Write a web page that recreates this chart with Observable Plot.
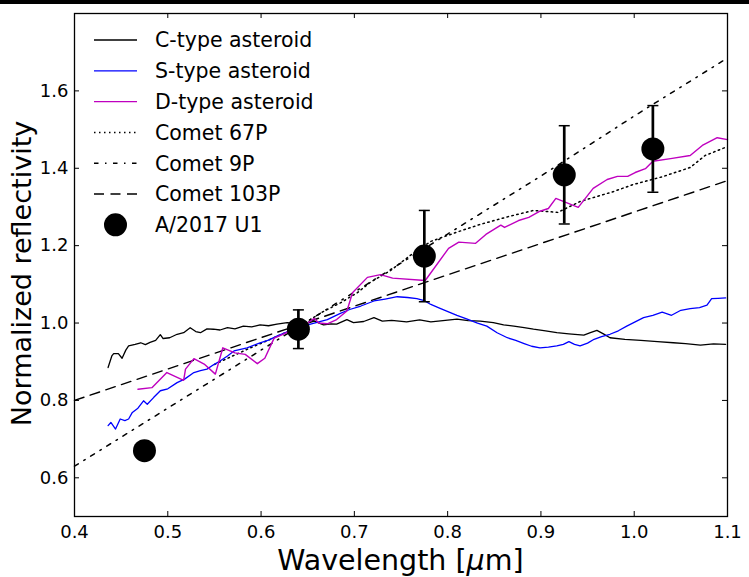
<!DOCTYPE html>
<html><head><meta charset="utf-8">
<script src="https://cdn.jsdelivr.net/npm/d3@7"></script>
<script src="https://cdn.jsdelivr.net/npm/@observablehq/plot@0.6"></script>
<style>
body{margin:0;background:#fff;}
#wrap{position:relative;width:749px;height:577px;overflow:hidden;background:#fff}
#bar{position:absolute;left:0;top:0;width:749px;height:4px;background:#000}
</style></head><body><div id="wrap"></div>
<script>
// ---- data ----
const xTicks = [0.4,0.5,0.6,0.7,0.8,0.9,1.0,1.1];
const yTicks = [0.6,0.8,1.0,1.2,1.4,1.6];

const cWave = [0.436,0.440,0.442,0.447,0.451,0.455,0.458,0.465,0.471,0.476,0.481,0.487,0.492,0.495,0.502,0.510,0.517,0.524,0.530,0.535,0.542,0.549,0.556,0.564,0.572,0.581,0.590,0.599,0.608,0.617,0.628,0.640,0.650,0.657,0.667,0.675,0.681,0.692,0.699,0.710,0.721,0.730,0.740,0.756,0.770,0.782,0.795,0.810,0.822,0.835,0.849,0.860,0.871,0.882,0.892,0.905,0.917,0.930,0.946,0.953,0.960,0.967,0.974,0.990,1.007,1.025,1.042,1.055,1.071,1.085,1.098];
const cRefl = [0.885,0.915,0.921,0.921,0.909,0.930,0.941,0.945,0.949,0.944,0.950,0.955,0.970,0.960,0.962,0.971,0.975,0.988,0.978,0.975,0.985,0.984,0.982,0.988,0.985,0.992,0.990,0.995,0.993,0.997,1.001,0.998,1.000,1.005,0.995,0.998,0.997,1.009,1.001,1.004,1.014,1.005,1.007,1.003,1.008,1.003,1.006,1.010,1.006,1.005,1.001,0.995,0.992,0.988,0.984,0.980,0.975,0.972,0.969,0.975,0.981,0.972,0.962,0.958,0.955,0.952,0.949,0.947,0.943,0.946,0.945];

const sWave = [0.436,0.439,0.444,0.449,0.454,0.458,0.462,0.468,0.474,0.478,0.485,0.492,0.500,0.510,0.518,0.528,0.535,0.542,0.549,0.556,0.564,0.571,0.585,0.599,0.608,0.617,0.626,0.635,0.650,0.660,0.671,0.685,0.695,0.707,0.721,0.733,0.746,0.757,0.767,0.775,0.782,0.790,0.799,0.810,0.821,0.832,0.842,0.853,0.864,0.873,0.882,0.890,0.899,0.908,0.917,0.924,0.930,0.936,0.942,0.950,0.957,0.965,0.974,0.983,0.992,1.001,1.010,1.020,1.030,1.040,1.050,1.060,1.070,1.078,1.083,1.090,1.098];
const sRefl = [0.735,0.743,0.726,0.752,0.748,0.752,0.769,0.780,0.799,0.790,0.808,0.825,0.830,0.846,0.855,0.872,0.877,0.881,0.892,0.902,0.915,0.928,0.936,0.949,0.956,0.966,0.975,0.984,0.995,1.002,1.009,1.025,1.035,1.044,1.057,1.062,1.068,1.066,1.063,1.058,1.048,1.040,1.031,1.020,1.010,1.000,0.992,0.975,0.962,0.955,0.947,0.940,0.936,0.938,0.941,0.945,0.952,0.945,0.941,0.948,0.958,0.965,0.971,0.980,0.992,1.003,1.014,1.020,1.028,1.020,1.033,1.037,1.040,1.046,1.063,1.064,1.065];

const dWave = [0.468,0.483,0.499,0.517,0.519,0.528,0.539,0.551,0.559,0.572,0.583,0.596,0.604,0.614,0.621,0.635,0.650,0.657,0.662,0.671,0.681,0.692,0.698,0.714,0.728,0.741,0.776,0.801,0.812,0.830,0.841,0.857,0.861,0.876,0.887,0.899,0.908,0.916,0.940,0.956,0.971,0.982,0.993,1.001,1.012,1.020,1.039,1.060,1.073,1.089,1.100];
const dRefl = [0.829,0.833,0.872,0.852,0.881,0.908,0.894,0.868,0.936,0.923,0.919,0.895,0.909,0.961,0.968,0.984,1.000,1.012,1.000,0.998,1.009,1.031,1.078,1.118,1.125,1.116,1.110,1.193,1.209,1.206,1.229,1.253,1.247,1.265,1.273,1.289,1.296,1.322,1.299,1.348,1.371,1.379,1.379,1.389,1.399,1.418,1.425,1.433,1.459,1.479,1.474];

const c67Wave = [0.550,0.585,0.610,0.640,0.667,0.685,0.703,0.717,0.739,0.760,0.782,0.810,0.835,0.865,0.892,0.918,0.942,0.978,0.999,1.030,1.060,1.076,1.100];
const c67Refl = [0.893,0.932,0.958,0.990,1.030,1.052,1.078,1.105,1.136,1.175,1.211,1.235,1.255,1.275,1.291,1.286,1.314,1.340,1.358,1.378,1.402,1.433,1.456];

const c9Wave = [0.4,0.5,0.6,0.7,0.8,0.9,1.0,1.1];
const c9Refl = [0.630,0.780,0.930,1.080,1.230,1.380,1.535,1.685];

const c103Wave = [0.4,1.1];
const c103Refl = [0.800,1.368];

const obsWave = [0.475,0.640,0.775,0.925,1.020];
const obsRefl = [0.670,0.984,1.173,1.383,1.450];
const obsErr  = [0.02,0.050,0.118,0.127,0.112];

const legendLabels = ["C-type asteroid","S-type asteroid","D-type asteroid","Comet 67P","Comet 9P","Comet 103P","A/2017 U1"];

// ---- build ----
const zip = (xs, ys) => xs.map((x,i)=>({x, y: ys[i]}));
const obs = obsWave.map((x,i)=>({x, y: obsRefl[i], lo: obsRefl[i]-obsErr[i], hi: obsRefl[i]+obsErr[i]}));

const W=749,H=577,ML=74,MR=22,MT=13,MB=61;
const PW=W-ML-MR, PH=H-MT-MB, TL=5;
const capSymbol = {draw(ctx){ctx.moveTo(-5.5,0);ctx.lineTo(5.5,0);}};
const styles = {
  c:{stroke:"#000",strokeWidth:1.3},
  s:{stroke:"#0000ff",strokeWidth:1.3},
  d:{stroke:"#bf00bf",strokeWidth:1.4},
  p67:{stroke:"#000",strokeWidth:1.5,strokeDasharray:"1.5,3.5"},
  p9:{stroke:"#000",strokeWidth:1.5,strokeDasharray:"4.5,6.5,1.5,6.5"},
  p103:{stroke:"#000",strokeWidth:1.4,strokeDasharray:"10,6.5"}
};

const chart = Plot.plot({
  width:W, height:H, marginLeft:ML, marginRight:MR, marginTop:MT, marginBottom:MB,
  style:{fontFamily:"'DejaVu Sans'", fontSize:"18px", color:"#000", background:"#fff"},
  x:{domain:[0.4,1.1]},
  y:{domain:[0.5,1.8]},
  marks:[
    Plot.line(zip(c103Wave,c103Refl),{x:"x",y:"y",...styles.p103}),
    Plot.line(zip(c9Wave,c9Refl),{x:"x",y:"y",...styles.p9}),
    Plot.line(zip(c67Wave,c67Refl),{x:"x",y:"y",...styles.p67}),
    Plot.line(zip(cWave,cRefl),{x:"x",y:"y",...styles.c}),
    Plot.line(zip(sWave,sRefl),{x:"x",y:"y",...styles.s}),
    Plot.line(zip(dWave,dRefl),{x:"x",y:"y",...styles.d}),
    Plot.ruleX(obs,{x:"x",y1:"lo",y2:"hi",stroke:"#000",strokeWidth:2.7}),
    Plot.dot(obs,{x:"x",y:"lo",symbol:capSymbol,stroke:"#000",strokeWidth:1.5,r:5}),
    Plot.dot(obs,{x:"x",y:"hi",symbol:capSymbol,stroke:"#000",strokeWidth:1.5,r:5}),
    Plot.dot(obs,{x:"x",y:"y",r:11.5,fill:"#000",stroke:"none"}),
    Plot.tickX(xTicks,{x:d=>d,insetTop:PH-TL,stroke:"#000",strokeWidth:1}),
    Plot.tickX(xTicks,{x:d=>d,insetBottom:PH-TL,stroke:"#000",strokeWidth:1}),
    Plot.tickY(yTicks,{y:d=>d,insetRight:PW-TL,stroke:"#000",strokeWidth:1}),
    Plot.tickY(yTicks,{y:d=>d,insetLeft:PW-TL,stroke:"#000",strokeWidth:1}),
    Plot.axisX({ticks:xTicks,tickSize:0,tickPadding:9,tickFormat:d3.format(".1f"),label:null,fontSize:18}),
    Plot.axisY({ticks:yTicks,tickSize:0,tickPadding:6,tickFormat:d3.format(".1f"),label:null,fontSize:18}),
    Plot.frame({stroke:"#000",strokeWidth:1.3})
  ]
});

const svg = d3.select(chart);
// axis titles
const xt = svg.append("text").attr("x", ML+PW/2).attr("y", 570).attr("text-anchor","middle")
  .attr("font-size",28.5).attr("font-family","'DejaVu Sans'").attr("fill","#000");
xt.append("tspan").text("Wavelength [");
xt.append("tspan").attr("font-style","italic").text("μ");
xt.append("tspan").text("m]");
svg.append("text").attr("transform",`translate(31,${MT+PH/2+9}) rotate(-90)`).attr("text-anchor","middle")
  .attr("font-size",27).attr("font-family","'DejaVu Sans'").attr("fill","#000").text("Normalized reflectivity");

// legend
const lg = svg.append("g").attr("text-anchor","start");
const keys = ["c","s","d","p67","p9","p103"];
legendLabels.forEach((lab,i)=>{
  const y = 40 + i*30.8;
  if (i < 6) {
    const st = styles[keys[i]];
    lg.append("line").attr("x1",94).attr("x2",137).attr("y1",y).attr("y2",y)
      .attr("stroke",st.stroke).attr("stroke-width",st.strokeWidth)
      .attr("stroke-dasharray",st.strokeDasharray||null);
  } else {
    lg.append("circle").attr("cx",115.5).attr("cy",y).attr("r",11.5).attr("fill","#000");
  }
  lg.append("text").attr("x",155).attr("y",y).attr("dy","0.36em").attr("text-anchor","start").attr("font-size",20.5)
    .attr("font-family","'DejaVu Sans'").attr("fill","#000").text(lab);
});

const wrap = document.getElementById("wrap");
wrap.appendChild(chart);
const bar = document.createElement("div"); bar.id="bar"; wrap.appendChild(bar);
</script></body></html>
